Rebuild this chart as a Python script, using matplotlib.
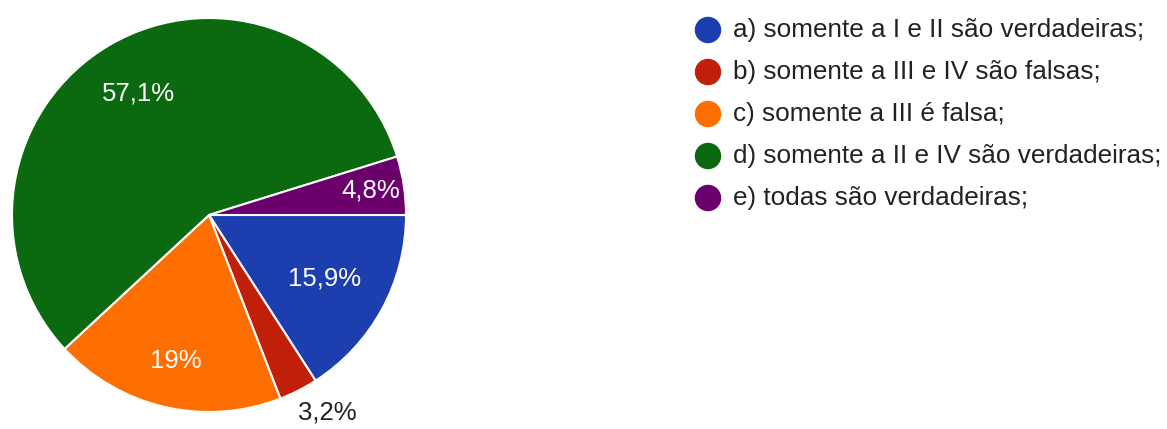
import numpy as np
import matplotlib.pyplot as plt

plt.rcParams['font.family'] = ['Liberation Sans', 'DejaVu Sans']

labels = [
    "a) somente a I e II são verdadeiras;",
    "b) somente a III e IV são falsas;",
    "c) somente a III é falsa;",
    "d) somente a II e IV são verdadeiras;",
    "e) todas são verdadeiras;",
]
values = [15.9, 3.2, 19.0, 57.1, 4.8]
pct_text = ["15,9%", "3,2%", "19%", "57,1%", "4,8%"]
colors = ["#1c3eae", "#c11f0a", "#ff6e00", "#0b6a10", "#6b006d"]

# posição de cada rótulo: distância radial e desvio de ângulo (graus)
label_r = [0.67, 1.17, 0.76, 0.71, 0.83]
label_dang = [0, 4, 0, 0, 0]
label_col = ["white", "#222222", "white", "white", "white"]

W, H = 1167, 429
fig = plt.figure(figsize=(W / 100, H / 100), dpi=100)

# pizza
ax = fig.add_axes([12 / W, 17 / H, 394 / W, 394 / H])
wedges, _ = ax.pie(values, colors=colors, startangle=0, counterclock=False,
                   wedgeprops=dict(edgecolor="white", linewidth=1.5))
ax.set_xlim(-1, 1)
ax.set_ylim(-1, 1)
for w, txt, r, da, c in zip(wedges, pct_text, label_r, label_dang, label_col):
    ang = np.deg2rad((w.theta1 + w.theta2) / 2 + da)
    ax.text(r * np.cos(ang), r * np.sin(ang), txt, ha="center", va="center",
            fontsize=18.5, color=c, clip_on=False)

# legenda
lg = fig.add_axes([690 / W, 1 - 219 / H, 1 - 690 / W, 210 / H])
lg.set_xlim(690, W)
lg.set_ylim(len(labels) - 0.5, -0.5)
lg.axis("off")
rows = np.arange(len(labels))
lg.scatter([708] * len(labels), rows, s=25 ** 2 * 0.52, c=colors)
for i, lab in enumerate(labels):
    lg.text(733, i, lab, ha="left", va="center", fontsize=18.8, color="#222222")

fig.savefig("out.png", dpi=100)
